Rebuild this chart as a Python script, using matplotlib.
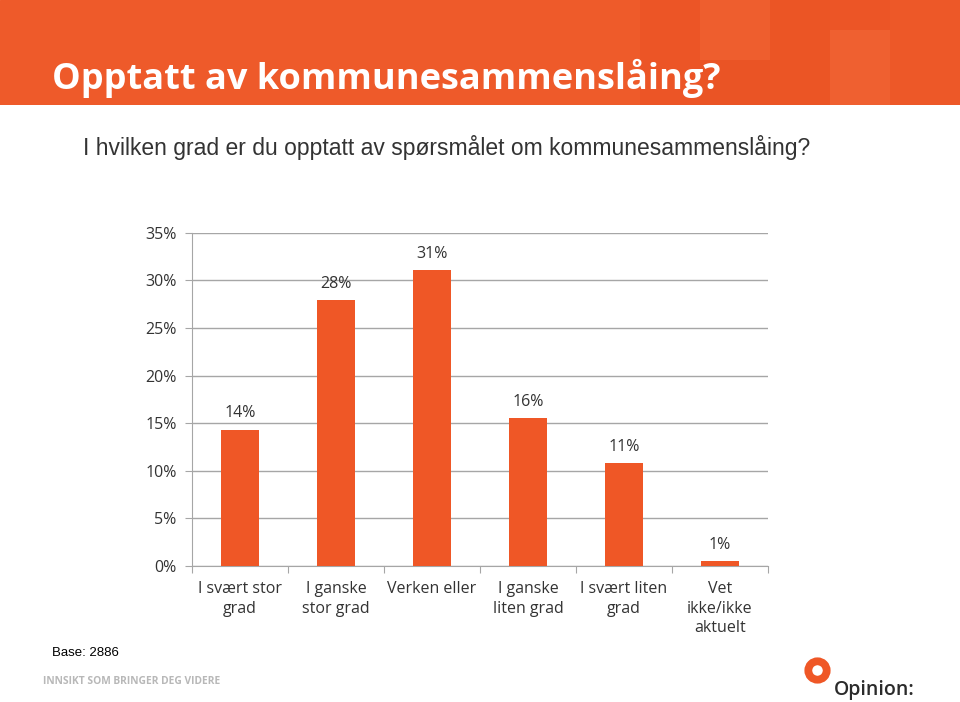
import matplotlib
matplotlib.use("Agg")
import matplotlib.pyplot as plt
from matplotlib.patches import Rectangle, Circle

categories = ["I svært stor\ngrad", "I ganske\nstor grad", "Verken eller", "I ganske\nliten grad",
              "I svært liten\ngrad", "Vet\nikke/ikke\naktuelt"]
values = [14.3, 27.9, 31.1, 15.5, 10.8, 0.5]
labels = ["14%", "28%", "31%", "16%", "11%", "1%"]
yticks = [0, 5, 10, 15, 20, 25, 30, 35]

W, H = 960, 702
fig = plt.figure(figsize=(9.6, 7.02), dpi=100)
fig.patch.set_facecolor("white")

# header band
hdr = fig.add_axes([0, 1 - 105 / H, 1, 105 / H])
hdr.set_xlim(0, W)
hdr.set_ylim(105, 0)
hdr.axis("off")
hdr.add_patch(Rectangle((0, 0), W, 105, color="#EE5A2A"))
mosaic = [(640, 0, 60, 105, "#E84A1E", 0.3), (700, 0, 70, 60, "#F06A3A", 0.25),
          (770, 0, 60, 105, "#E64A1C", 0.3), (830, 30, 60, 75, "#F27444", 0.25),
          (700, 60, 70, 45, "#E24418", 0.25), (890, 0, 70, 105, "#EC5426", 0.3),
          (830, 0, 60, 30, "#E84C20", 0.3), (560, 0, 80, 105, "#F0602E", 0.2)]
for x, y, w, h, c, a in mosaic:
    hdr.add_patch(Rectangle((x, y), w, h, color=c, alpha=a, lw=0))
hdr.text(52, 78, "Opptatt av kommunesammenslåing?", color="white", fontsize=26,
         fontweight="bold", family="Open Sans", va="center", ha="left")

fig.text(83 / W, 1 - 148 / H, "I hvilken grad er du opptatt av spørsmålet om kommunesammenslåing?",
         fontsize=16.5, color="#333333", family="Liberation Sans", va="center", ha="left")

ax = fig.add_axes([192 / W, 1 - 566 / H, 576 / W, (566 - 232.7) / H])
x = list(range(len(categories)))
ax.bar(x, values, width=0.4, color="#EF5726", zorder=3)
ax.set_xlim(-0.5, len(categories) - 0.5)
ax.set_ylim(0, 35)
ax.set_yticks(yticks)
ax.set_yticklabels([f"{t}%" for t in yticks])
ax.yaxis.grid(True, color="#A6A6A6", lw=1)
ax.set_axisbelow(True)
for s in ["top", "right"]:
    ax.spines[s].set_visible(False)
for s in ["left", "bottom"]:
    ax.spines[s].set_color("#A6A6A6")
ax.tick_params(axis="y", length=5, color="#A6A6A6", labelsize=11.5, labelcolor="#333333", pad=6)
ax.set_xticks([i - 0.5 for i in range(len(categories) + 1)])
ax.set_xticklabels([])
ax.tick_params(axis="x", length=5, color="#A6A6A6")
for lab in ax.get_yticklabels():
    lab.set_family("Open Sans")
for i, (v, l) in enumerate(zip(values, labels)):
    ax.annotate(l, (i, v), xytext=(0, 6), textcoords="offset points", ha="center", va="bottom",
                fontsize=11.5, color="#333333", family="Open Sans")
    ax.text(i, -1.6, categories[i], ha="center", va="top", fontsize=11.5, color="#333333",
            family="Open Sans", linespacing=1.3)

fig.text(52 / W, 1 - 653 / H, "Base: 2886", fontsize=9.5, color="black",
         family="Liberation Sans", va="center", ha="left")
fig.text(43 / W, 1 - 682 / H, "INNSIKT SOM BRINGER DEG VIDERE", fontsize=7.4, color="#B8B8B8",
         family="Open Sans", fontweight="bold", va="center", ha="left")

# logo
lg = fig.add_axes([0, 0, 1, 1], zorder=-1)
lg.set_xlim(0, W)
lg.set_ylim(H, 0)
lg.axis("off")
lg.add_patch(Circle((817.5, 670.5), 9.2, fill=False, ec="#EF5726", lw=5.6))
fig.text(834 / W, 1 - 690 / H, "Opinion:", fontsize=14, color="#2B2B2B", family="Open Sans",
         fontweight="semibold", va="center", ha="left")

fig.savefig("out.png", dpi=100, facecolor="white")
